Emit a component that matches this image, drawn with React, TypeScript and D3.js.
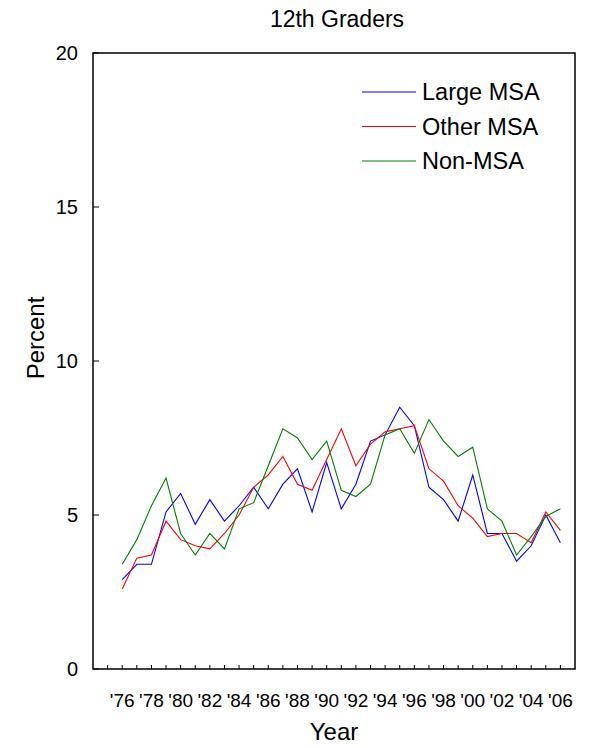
import React from "react";
import * as d3 from "d3";

const years = d3.range(1976, 2007);
const largeMSA = [2.9,3.4,3.4,5.1,5.7,4.7,5.5,4.8,5.3,5.9,5.2,6.0,6.5,5.1,6.7,5.2,6.0,7.4,7.6,8.5,7.9,5.9,5.5,4.8,6.3,4.4,4.4,3.5,4.0,5.0,4.1];
const otherMSA = [2.6,3.6,3.7,4.8,4.2,4.0,3.9,4.4,5.0,5.9,6.3,6.9,6.0,5.8,6.8,7.8,6.6,7.3,7.7,7.8,7.9,6.5,6.1,5.3,4.9,4.3,4.4,4.4,4.1,5.1,4.5];
const nonMSA = [3.4,4.2,5.3,6.2,4.4,3.7,4.4,3.9,5.2,5.4,6.6,7.8,7.5,6.8,7.4,5.8,5.6,6.0,7.6,7.8,7.0,8.1,7.4,6.9,7.2,5.2,4.8,3.7,4.3,4.95,5.2];
const yTicks = [0, 5, 10, 15, 20];
const xTickYears = d3.range(1975, 2007);
const xLabelYears = d3.range(1976, 2007, 2);

const series = [
  { name: "Large MSA", values: largeMSA, color: "#0000ff" },
  { name: "Other MSA", values: otherMSA, color: "#ff0000" },
  { name: "Non-MSA", values: nonMSA, color: "#008000" },
];

const W = 593, H = 748;
const L = 93, R = 575, T = 53, B = 669;
const font = "Liberation Sans, Arial, sans-serif";

export default function App() {
  const x = d3.scaleLinear().domain([1974, 2007]).range([L, R]);
  const y = d3.scaleLinear().domain([0, 20]).range([B, T]);
  const line = d3.line<number>().x((_, i) => x(years[i])).y((d) => y(d));
  return (
    <svg width={W} height={H} style={{ position: "absolute", left: 0, top: 0 }} fontFamily={font}>
      <rect width={W} height={H} fill="#fff" />
      <text x={337} y={27} fontSize={23} textAnchor="middle">12th Graders</text>
      {series.map((s) => (
        <path key={s.name} d={line(s.values) || ""} fill="none" stroke={s.color} strokeWidth={1.1} />
      ))}
      <rect x={L} y={T} width={R - L} height={B - T} fill="none" stroke="#000" strokeWidth={1.5} />
      {yTicks.map((t) => (
        <g key={t}>
          <line x1={L} x2={L + 6} y1={y(t)} y2={y(t)} stroke="#000" strokeWidth={1} />
          <text x={78} y={y(t)} dy="0.35em" fontSize={20} textAnchor="end">{t}</text>
        </g>
      ))}
      {xTickYears.map((t) => (
        <line key={t} x1={x(t)} x2={x(t)} y1={B} y2={B - 4} stroke="#000" strokeWidth={1} />
      ))}
      {xLabelYears.map((t) => (
        <text key={t} x={x(t)} y={707} fontSize={19} textAnchor="middle">{"'" + String(t).slice(2)}</text>
      ))}
      <text x={334} y={740} fontSize={24} textAnchor="middle">Year</text>
      <text transform="translate(44,338) rotate(-90)" fontSize={24} textAnchor="middle">Percent</text>
      {series.map((s, i) => (
        <g key={s.name}>
          <line x1={362} x2={416} y1={92 + i * 34.5} y2={92 + i * 34.5} stroke={s.color} strokeWidth={1.1} />
          <text x={422} y={92 + i * 34.5} dy="0.35em" fontSize={23.5}>{s.name}</text>
        </g>
      ))}
    </svg>
  );
}
